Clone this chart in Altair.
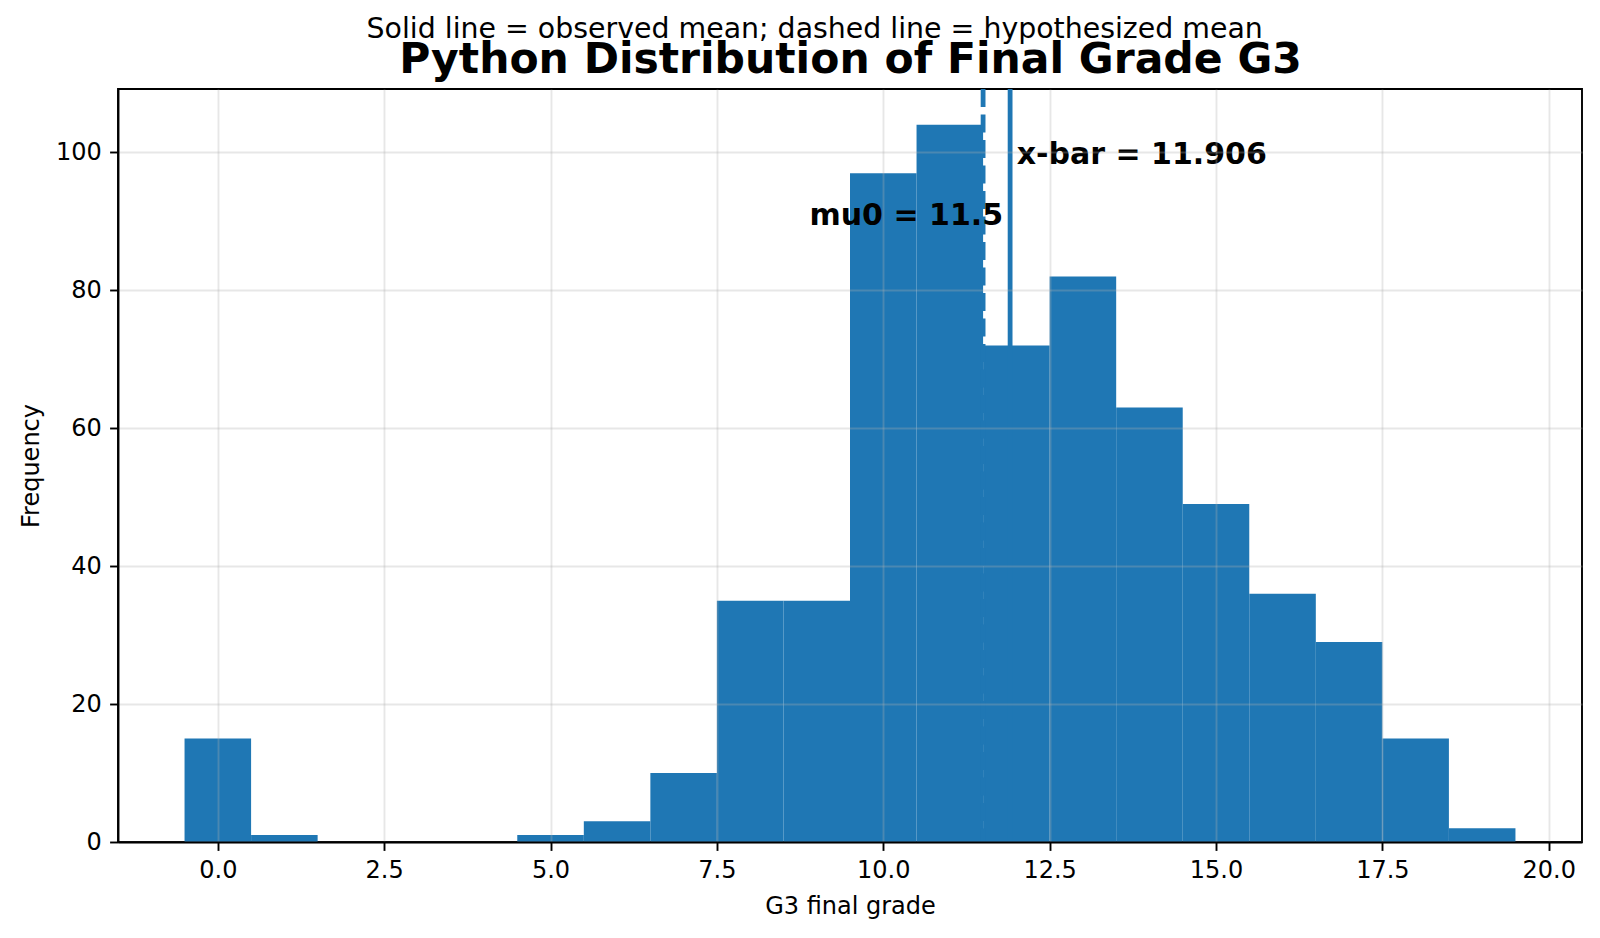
import altair as alt
import pandas as pd

# Final grade G3: integer grades and how many students got each
grades = list(range(0, 20))
counts = [15, 1, 0, 0, 0, 1, 3, 10, 35, 35, 97, 104, 72, 82, 63, 49, 36, 29, 15, 2]

observed_mean = 11.906
hypothesized_mean = 11.5

x_ticks = [0.0, 2.5, 5.0, 7.5, 10.0, 12.5, 15.0, 17.5, 20.0]
y_ticks = [0, 20, 40, 60, 80, 100]

y_top = max(counts) * 1.05

BLUE = "#1f77b4"
FONT = "DejaVu Sans"

hist = pd.DataFrame({
    "lo": [g - 0.5 for g in grades],
    "hi": [g + 0.5 for g in grades],
    "count": counts,
})

xscale = alt.Scale(domain=[-1.5, 20.5], nice=False, zero=False)
yscale = alt.Scale(domain=[0, y_top], nice=False, zero=True)

y_axis = alt.Axis(title="Frequency", values=y_ticks, grid=True, zindex=1,
                  titlePadding=12)

bars = alt.Chart(hist).mark_rect(color=BLUE).encode(
    x=alt.X("lo:Q", scale=xscale,
            axis=alt.Axis(title="G3 final grade", values=x_ticks, format=".1f",
                          grid=True, zindex=1, titlePadding=12)),
    x2="hi:Q",
    y=alt.Y("count:Q", scale=yscale, axis=y_axis, title="Frequency"),
    y2=alt.Y2(datum=0),
)

obs_df = pd.DataFrame({"value": [observed_mean]})
hyp_df = pd.DataFrame({"value": [hypothesized_mean]})

# solid rule for the observed mean; its top axis carries the bold heading
solid = alt.Chart(obs_df).mark_rule(color=BLUE, strokeWidth=4.8).encode(
    x=alt.X("value:Q", scale=xscale,
            axis=alt.Axis(orient="top", title="Python Distribution of Final Grade G3",
                          titleFontSize=42.5, titleFontWeight="bold",
                          titleBaseline="alphabetic", titlePadding=17,
                          labels=False, ticks=False, domain=False, grid=False)),
)

dashed = alt.Chart(hyp_df).mark_rule(color=BLUE, strokeWidth=4.8,
                                     strokeDash=[18, 7.5]).encode(
    x=alt.X("value:Q", scale=xscale, axis=None),
)

xbar_lbl = pd.DataFrame({
    "x": [observed_mean + 0.1],
    "y": [y_top * 0.9],
    "label": [f"x-bar = {observed_mean:.3f}"],
})
mu0_lbl = pd.DataFrame({
    "x": [hypothesized_mean + 0.3],
    "y": [y_top * 0.82],
    "label": [f"mu0 = {hypothesized_mean}"],
})

xbar_text = alt.Chart(xbar_lbl).mark_text(
    align="left", baseline="alphabetic", fontSize=30, fontWeight="bold",
    font=FONT, color="black",
).encode(
    x=alt.X("x:Q", scale=xscale, axis=None),
    y=alt.Y("y:Q", scale=yscale, axis=y_axis, title="Frequency"),
    text="label:N",
)

mu0_text = alt.Chart(mu0_lbl).mark_text(
    align="right", baseline="alphabetic", fontSize=30, fontWeight="bold",
    font=FONT, color="black",
).encode(
    x=alt.X("x:Q", scale=xscale, axis=None),
    y=alt.Y("y:Q", scale=yscale, axis=y_axis, title="Frequency"),
    text="label:N",
)

chart = alt.layer(bars, solid, dashed, xbar_text, mu0_text).resolve_axis(
    x="independent"
).properties(
    width=1464,
    height=753,
    autosize=alt.AutoSizeParams(type="none"),
    padding={"left": 118, "top": 89, "right": 18, "bottom": 96},
    title=alt.TitleParams(
        text="Solid line = observed mean; dashed line = hypothesized mean",
        anchor="middle", frame="bounds", fontSize=28.4, fontWeight="normal",
        font=FONT, color="black", offset=-6, dx=14,
    ),
).configure(
    font=FONT,
    background="white",
).configure_view(
    stroke="black", strokeWidth=1.9,
).configure_axis(
    domainColor="black", domainWidth=1.9,
    tickColor="black", tickWidth=1.9, tickSize=8.4,
    labelFont=FONT, labelFontSize=24, labelColor="black", labelPadding=8.4,
    titleFont=FONT, titleFontSize=24, titleFontWeight="normal", titleColor="black",
    gridColor="#b0b0b0", gridOpacity=0.3, gridWidth=1.9,
)

chart.save("out.html", embed_options={"renderer": "svg", "actions": False})
